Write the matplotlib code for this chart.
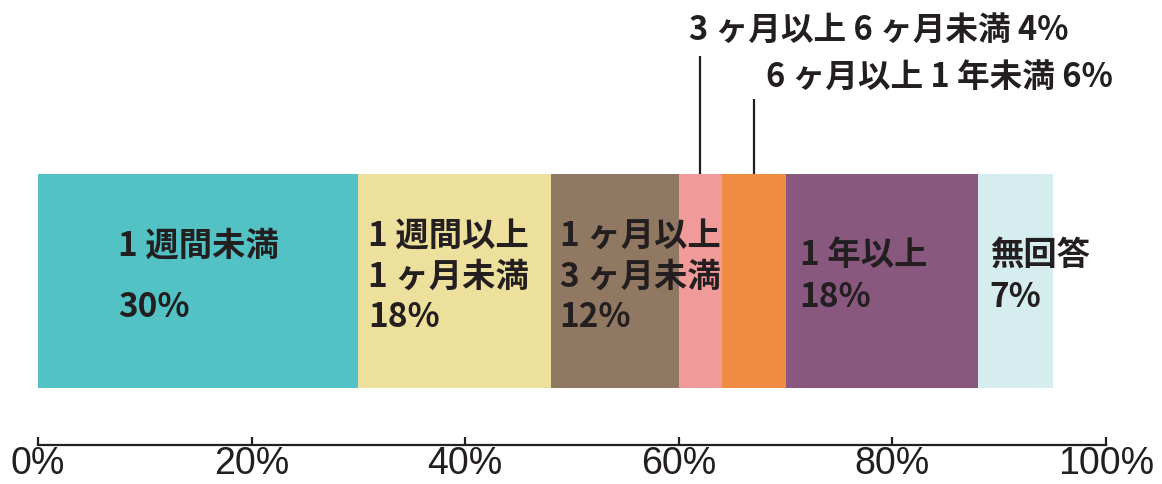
import matplotlib.pyplot as plt

# 期間別の割合（%）
categories = ['1 週間未満', '1 週間以上\n1 ヶ月未満', '1 ヶ月以上\n3 ヶ月未満',
              '3 ヶ月以上 6 ヶ月未満', '6 ヶ月以上 1 年未満', '1 年以上', '無回答']
values = [30, 18, 12, 4, 6, 18, 7]
colors = ['#52C2C5', '#EDDF9C', '#907862', '#F09B9A', '#F08B42', '#88587F', '#D5EDEE']
ticks = [0, 20, 40, 60, 80, 100]
tick_labels = ['0%', '20%', '40%', '60%', '80%', '100%']

txt = '#231F20'
jp = ['Noto Sans CJK JP', 'DejaVu Sans']
px = 0.72  # points per pixel at dpi 100

fig = plt.figure(figsize=(11.62, 4.84), dpi=100)
ax = fig.add_axes([38 / 1162, 39 / 484, 1068 / 1162, 445 / 484])
ax.set_xlim(0, 100)
ax.set_ylim(-57 / 214, 388 / 214)

lefts = []
pos = 0
for v, c in zip(values, colors):
    ax.barh(0, v, left=pos, height=1, align='edge', color=c, linewidth=0)
    lefts.append(pos)
    pos += v

# labels inside the bar
inside = {0: 2.1, 1: 1.3, 2: 1.3, 5: 1.35, 6: 1.35}
pad = {1: 10, 2: 9, 5: 14, 6: 12}
for i, ls in inside.items():
    s = categories[i] + '\n' + f'{values[i]}%'
    if i == 0:
        ax.text(lefts[i] + values[i] / 2, 0.52, s, ha='center', va='center',
                multialignment='left', linespacing=ls, fontsize=24,
                fontweight='bold', family=jp, color=txt)
    else:
        ax.annotate(s, (lefts[i], 0.52), xytext=(pad[i] * px, 0),
                    textcoords='offset points', ha='left', va='center',
                    linespacing=ls, fontsize=24, fontweight='bold',
                    family=jp, color=txt)

# small segments labelled above with leader lines
callouts = [(3, 1.551, 1.673, -11), (4, 1.350, 1.453, 12)]
for i, ytop, ytxt, dx in callouts:
    xc = lefts[i] + values[i] / 2
    ax.plot([xc, xc], [1, ytop], color=txt, lw=1.6, solid_capstyle='butt')
    ax.annotate(f'{categories[i]} {values[i]}%', (xc, ytxt), xytext=(dx * px, 0),
                textcoords='offset points', ha='left', va='center',
                fontsize=23.5, fontweight='bold', family=jp, color=txt,
                annotation_clip=False)

for s in ['top', 'left', 'right']:
    ax.spines[s].set_visible(False)
ax.spines['bottom'].set_linewidth(1.6)
ax.spines['bottom'].set_color(txt)
ax.set_yticks([])
ax.set_xticks(ticks)
ax.set_xticklabels(tick_labels, family=['Liberation Sans', 'DejaVu Sans'],
                   fontsize=27, color=txt)
ax.tick_params(axis='x', direction='in', length=6, width=1.6, color=txt, pad=1)

fig.savefig('out.png', dpi=100)
